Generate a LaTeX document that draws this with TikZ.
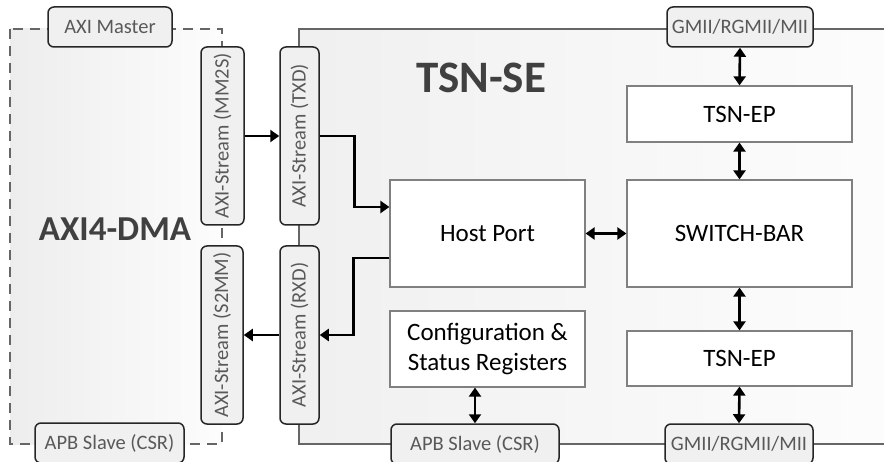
\documentclass[tikz,border=0pt]{standalone}
\usepackage{fontspec}
\setmainfont{Carlito}
\usetikzlibrary{arrows.meta}

\begin{document}
\begin{tikzpicture}[x=1pt, y=-1pt,
  blk/.style = {shape=rectangle, draw=black!50, line width=1.2pt, fill=white,
    align=center, inner sep=0pt, font=\fontsize{25}{30}\selectfont},
  port/.style = {shape=rectangle, rounded corners=6pt, draw=black!85,
    line width=1.5pt, fill=black!6, text=black!65, inner sep=0pt,
    minimum height=40pt, font=\fontsize{20.5}{24}\selectfont},
  vport/.style = {port, minimum height=178pt},
  link/.style = {line width=2.6pt, -{Triangle[length=9pt,width=12pt]}},
  dlink/.style = {link, {Triangle[length=9pt,width=12pt]}-{Triangle[length=9pt,width=12pt]}},
  frame/.style = {draw=black!60, line width=2.5pt},
  title/.style = {text=black!75, font=\bfseries\fontsize{45}{50}\selectfont}]
  \useasboundingbox[fill=white] (0,0) rectangle (884,462);

  \shade[left color=black!7, right color=black!1] (10,29) rectangle (222,444);
  \shade[left color=black!6, right color=black!1] (299,29) rectangle (884,444);
  \draw[frame, dash pattern=on 10pt off 7pt] (10,29) rectangle (222,444);
  \draw[frame] (884,29) -- (299,29) -- (299,444) -- (884,444);

  \node[title] (tsnse) at (481,78) {TSN-SE};
  \node[title, font=\bfseries\fontsize{35}{40}\selectfont] (dma) at (115,229) {AXI4-DMA};

  \node[port, minimum width=124pt] (master) at (110,27) {AXI Master};
  \node[port, minimum width=149pt] (apbL) at (109.5,443) {APB Slave (CSR)};
  \node[port, minimum width=146pt] (gmiiT) at (740,27) {GMII/RGMII/MII};
  \node[port, minimum width=168pt] (apbB) at (475,444) {APB Slave (CSR)};
  \node[port, minimum width=148pt] (gmiiB) at (739,444) {GMII/RGMII/MII};

  \node[vport, minimum width=43pt] (mm2s) at (222.5,136) {\rotatebox{90}{AXI-Stream (MM2S)}};
  \node[vport, minimum width=42pt] (s2mm) at (222,335) {\rotatebox{90}{AXI-Stream (S2MM)}};
  \node[vport, minimum width=39pt] (txd) at (299.5,136) {\rotatebox{90}{AXI-Stream (TXD)}};
  \node[vport, minimum width=39pt] (rxd) at (299.5,335) {\rotatebox{90}{AXI-Stream (RXD)}};

  \node[blk, minimum width=225pt, minimum height=56pt] (tep1) at (739.5,114) {TSN-EP};
  \node[blk, minimum width=225pt, minimum height=107pt] (swb) at (739.5,233.5) {SWITCH-BAR};
  \node[blk, minimum width=225pt, minimum height=55pt] (tep2) at (739.5,358.5) {TSN-EP};
  \node[blk, minimum width=195pt, minimum height=107pt] (host) at (487.5,233.5) {Host Port};
  \node[blk, minimum width=195pt, minimum height=76pt] (cfg) at (487.5,349) {Configuration \&\\Status Registers};

  \draw[link] (mm2s.east) -- (txd.west);
  \draw[link] (txd.east) -- ++(35,0) |- ([yshift=26.5pt]host.west);
  \draw[link] ([yshift=-24.5pt]host.west) -- ++(-36,0) |- (rxd.east);
  \draw[link] (rxd.west) -- (s2mm.east);
  \draw[dlink] (host.east) -- (swb.west);
  \draw[dlink] (gmiiT.south) -- (tep1.north);
  \draw[dlink] (tep1.south) -- (swb.north);
  \draw[dlink] (swb.south) -- (tep2.north);
  \draw[dlink] (tep2.south) -- (gmiiB.north);
  \draw[dlink] (cfg.south -| apbB) -- (apbB.north);
\end{tikzpicture}
\end{document}
